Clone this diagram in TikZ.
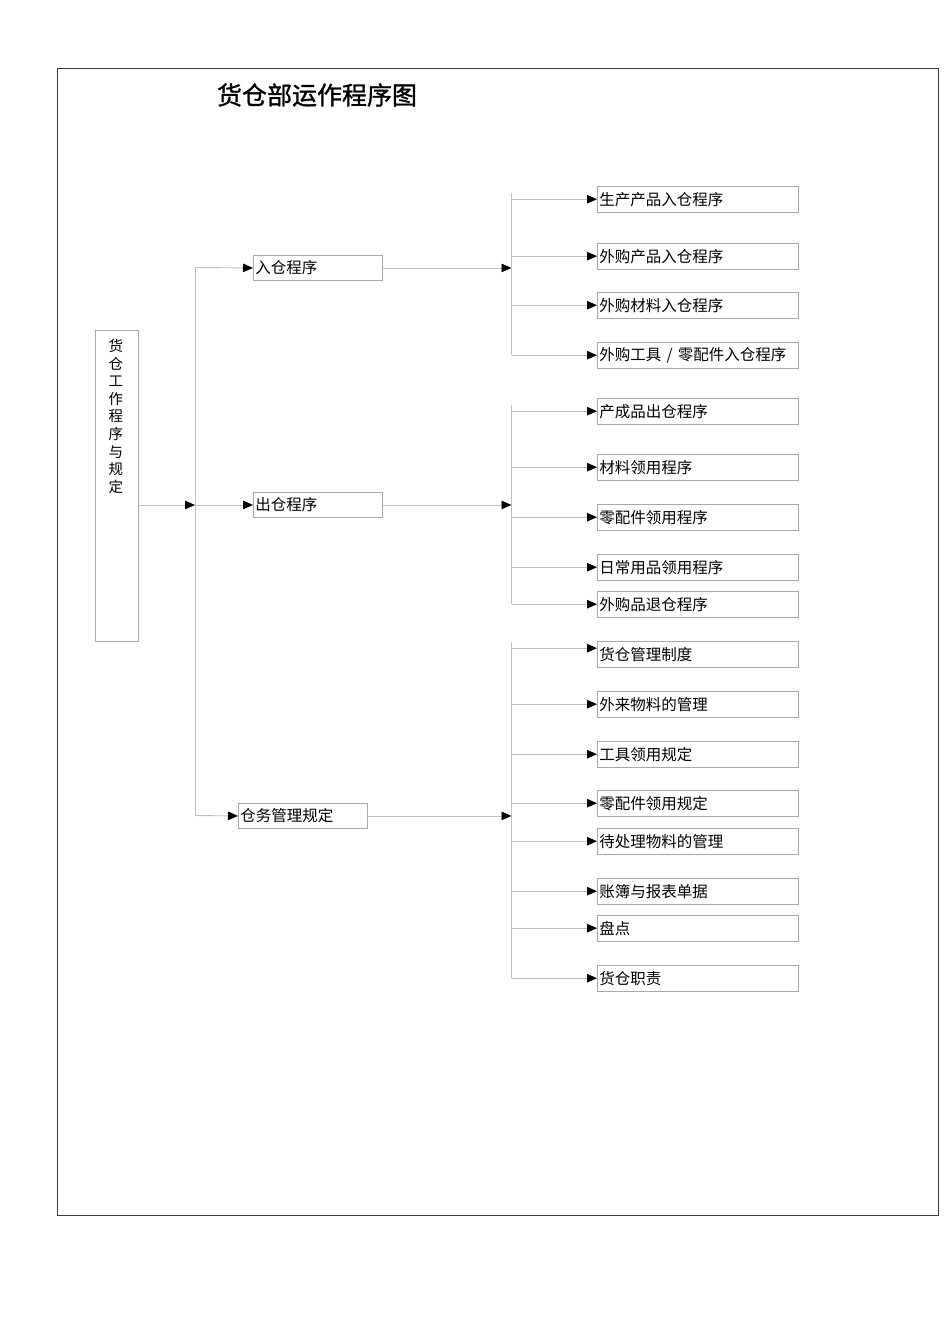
\documentclass[tikz,border=0pt]{standalone}
\usepackage{fontspec}
\setmainfont{Noto Sans CJK SC}
\newfontfamily\titlefont{Noto Sans CJK SC}[FakeBold=1.2]
\usetikzlibrary{arrows.meta}
\definecolor{linegray}{HTML}{BFBFBF}
\definecolor{boxgray}{HTML}{A8A8A8}
\definecolor{framegray}{HTML}{3C3C3C}
\tikzset{
  conn/.style={draw=linegray, line width=0.9pt},
  arr/.style={conn, -{Triangle[length=10pt,width=8.5pt,color=black]}},
  boxbase/.style={draw=boxgray, line width=0.9pt, anchor=north west, inner xsep=2pt, inner ysep=0pt, align=left, font=\fontsize{15.5pt}{18pt}\selectfont},
  midbox/.style={boxbase, text width=125pt, minimum height=25pt},
  leafbox/.style={boxbase, text width=197pt, minimum height=25.5pt},
}
\begin{document}
\begin{tikzpicture}[x=1pt,y=-1pt]
\useasboundingbox (0,0) rectangle (950,1344);
\fill[white] (0,0) rectangle (950,1344);
\draw[draw=framegray, line width=1pt] (57,68) rectangle (938,1215);
\node[font=\fontsize{25pt}{28pt}\titlefont, inner sep=0pt] (title) at (317,95) {货仓部运作程序图};

% root
\node[draw=boxgray, line width=0.9pt, anchor=north west, minimum width=43pt, minimum height=311pt, inner sep=0pt,
  label={[anchor=north, yshift=-9pt, xshift=-1pt, align=center, inner sep=0pt, font=\fontsize{14.5pt}{17.6pt}\selectfont]north:{货\\仓\\工\\作\\程\\序\\与\\规\\定}}] (root) at (95,330) {};

% middle level
\node[midbox] (a1) at (253,255) {入仓程序};
\node[midbox] (a2) at (253,492) {出仓程序};
\node[midbox] (a3) at (238,803) {仓务管理规定};

% leaves group 1
\node[leafbox] (l11) at (597,186) {生产产品入仓程序};
\node[leafbox] (l12) at (597,243) {外购产品入仓程序};
\node[leafbox] (l13) at (597,292) {外购材料入仓程序};
\node[leafbox] (l14) at (597,342) {外购工具 / 零配件入仓程序};
% leaves group 2
\node[leafbox] (l21) at (597,398) {产成品出仓程序};
\node[leafbox] (l22) at (597,454) {材料领用程序};
\node[leafbox] (l23) at (597,504) {零配件领用程序};
\node[leafbox] (l24) at (597,554) {日常用品领用程序};
\node[leafbox] (l25) at (597,591) {外购品退仓程序};
% leaves group 3
\node[leafbox] (l31) at (597,641) {货仓管理制度};
\node[leafbox] (l32) at (597,691) {外来物料的管理};
\node[leafbox] (l33) at (597,741) {工具领用规定};
\node[leafbox] (l34) at (597,790) {零配件领用规定};
\node[leafbox] (l35) at (597,828) {待处理物料的管理};
\node[leafbox] (l36) at (597,878) {账簿与报表单据};
\node[leafbox] (l37) at (597,915) {盘点};
\node[leafbox] (l38) at (597,965) {货仓职责};

% spine coordinates
\coordinate (s0) at (195,505);
\coordinate (s1t) at (195,267.5);
\coordinate (s1b) at (195,815.5);
\coordinate (g1t) at (511.5,193);
\coordinate (g1b) at (511.5,355);
\coordinate (g2t) at (511.5,405);
\coordinate (g2b) at (511.5,604);
\coordinate (g3t) at (511.5,642);
\coordinate (g3b) at (511.5,978);

% level 1
\draw[arr] (root.east |- s0) -- (s0);
\draw[conn] (s1t) -- (s1b);
\draw[arr] (s1t) -- (a1.west);
\draw[arr] (s0 |- a2.west) -- (a2.west);
\draw[arr] (s1b) -- (a3.west);

% level 2
\draw[arr] (a1.east) -- (a1.east -| g1t);
\draw[arr] (a2.east) -- (a2.east -| g2t);
\draw[arr] (a3.east) -- (a3.east -| g3t);
\draw[conn] (g1t) -- (g1b);
\draw[conn] (g2t) -- (g2b);
\draw[conn] (g3t) -- (g3b);

% leaves
\foreach \n in {l11,l12,l13,l14,l21,l22,l23,l24,l25,l32,l33,l34,l35,l36,l37,l38}{
  \draw[arr] (\n.west -| g1t) -- (\n.west);
}
\draw[arr] ([yshift=6pt]l31.west -| g1t) -- ([yshift=6pt]l31.west);
\end{tikzpicture}
\end{document}
